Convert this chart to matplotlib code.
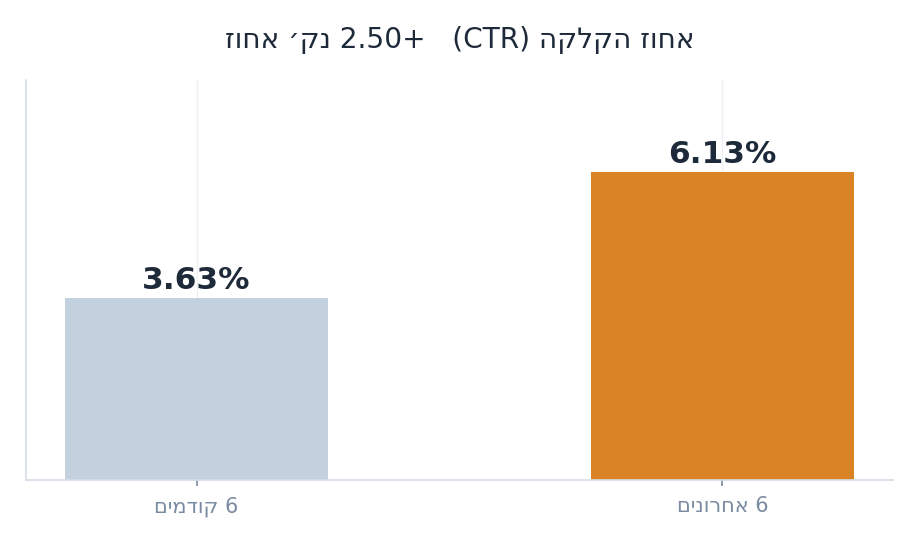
import matplotlib
matplotlib.use('Agg')
import matplotlib.pyplot as plt

# data
categories = ['6 קודמים', '6 אחרונים']
ctr_values = [3.63, 6.13]
bar_colors = ['#c3d0dd', '#d98324']
title_text = 'אחוז הקלקה (CTR)   +2.50 נק׳ אחוז'


def rtl(s):
    # matplotlib has no bidi support, so put hebrew into visual order
    out = []
    for tok in s.split(' ')[::-1]:
        if any('\u0590' <= c <= '\u05ff' for c in tok):
            tok = tok[::-1]
        elif tok.startswith('+'):
            tok = tok[1:] + '+'
        out.append(tok)
    return ' '.join(out)


plt.rcParams.update({'font.family': 'DejaVu Sans'})

fig, ax = plt.subplots(figsize=(9.18, 5.44), dpi=100)
fig.subplots_adjust(left=0.028, right=0.973, top=0.853, bottom=0.118)

x = range(len(categories))
bars = ax.bar(x, ctr_values, width=0.5, color=bar_colors, zorder=2)

for b, v in zip(bars, ctr_values):
    ax.annotate('%.2f%%' % v, (b.get_x() + b.get_width() / 2, v),
                xytext=(0, 2), textcoords='offset points',
                ha='center', va='bottom', fontsize=22.5, fontweight='bold',
                color='#1e2a3a')

ax.set_xticks(list(x))
ax.set_xticklabels([rtl(c) for c in categories])
ax.set_ylim(0, max(ctr_values) * 1.3)
ax.set_yticks([])

ax.set_title(rtl(title_text), fontsize=20.2, color='#1e2a3a', pad=23)

ax.grid(axis='x', color='#eceff3', lw=0.9, zorder=0)
ax.set_axisbelow(True)
for s in ['top', 'right']:
    ax.spines[s].set_visible(False)
for s in ['left', 'bottom']:
    ax.spines[s].set_color('#d5dde8')
    ax.spines[s].set_linewidth(1.2)
ax.tick_params(axis='x', colors='#7b8ba1', labelsize=15, length=4, width=1.2, pad=8)

plt.savefig('out.png', dpi=100)
